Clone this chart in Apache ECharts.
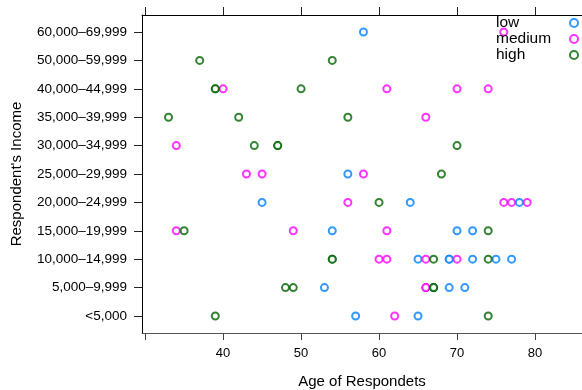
<!DOCTYPE html>
<html>
<head>
<meta charset="utf-8">
<script src="https://cdn.jsdelivr.net/npm/echarts@6/dist/echarts.min.js"></script>
<style>
  html, body { margin: 0; padding: 0; background: #fff; }
  #chart { width: 582px; height: 390px; }
</style>
</head>
<body>
<div id="chart"></div>
<script>
// Income brackets, bottom to top
const incomes = [
  '<5,000', '5,000–9,999', '10,000–14,999', '15,000–19,999', '20,000–24,999',
  '25,000–29,999', '30,000–34,999', '35,000–39,999', '40,000–44,999',
  '50,000–59,999', '60,000–69,999'
];

// Respondents as [age, income bracket], one list per group
const lowPoints = [
  [58, '60,000–69,999'],
  [56, '25,000–29,999'],
  [45, '20,000–24,999'], [64, '20,000–24,999'], [78, '20,000–24,999'],
  [54, '15,000–19,999'], [70, '15,000–19,999'], [72, '15,000–19,999'],
  [65, '10,000–14,999'], [69, '10,000–14,999'], [69, '10,000–14,999'], [72, '10,000–14,999'],
  [75, '10,000–14,999'], [77, '10,000–14,999'],
  [53, '5,000–9,999'], [67, '5,000–9,999'], [69, '5,000–9,999'], [71, '5,000–9,999'],
  [57, '<5,000'], [65, '<5,000']
];
const mediumPoints = [
  [76, '60,000–69,999'],
  [40, '40,000–44,999'], [61, '40,000–44,999'], [70, '40,000–44,999'], [74, '40,000–44,999'],
  [66, '35,000–39,999'],
  [34, '30,000–34,999'],
  [43, '25,000–29,999'], [45, '25,000–29,999'], [58, '25,000–29,999'],
  [56, '20,000–24,999'], [76, '20,000–24,999'], [77, '20,000–24,999'], [79, '20,000–24,999'],
  [34, '15,000–19,999'], [49, '15,000–19,999'], [61, '15,000–19,999'],
  [60, '10,000–14,999'], [61, '10,000–14,999'], [66, '10,000–14,999'], [70, '10,000–14,999'],
  [66, '5,000–9,999'], [66, '5,000–9,999'],
  [62, '<5,000']
];
const highPoints = [
  [37, '50,000–59,999'], [54, '50,000–59,999'],
  [39, '40,000–44,999'], [39, '40,000–44,999'], [50, '40,000–44,999'],
  [33, '35,000–39,999'], [42, '35,000–39,999'], [56, '35,000–39,999'],
  [44, '30,000–34,999'], [47, '30,000–34,999'], [47, '30,000–34,999'], [70, '30,000–34,999'],
  [68, '25,000–29,999'],
  [60, '20,000–24,999'],
  [35, '15,000–19,999'], [74, '15,000–19,999'],
  [54, '10,000–14,999'], [54, '10,000–14,999'], [67, '10,000–14,999'], [74, '10,000–14,999'],
  [48, '5,000–9,999'], [49, '5,000–9,999'], [67, '5,000–9,999'], [67, '5,000–9,999'],
  [39, '<5,000'], [74, '<5,000']
];

const groups = ['low', 'medium', 'high'];
const groupPoints = [lowPoints, mediumPoints, highPoints];
const groupColors = ['#0080ff', '#ff00ff', '#006400'];

const xTicks = [30, 40, 50, 60, 70, 80];
const xLabels = [40, 50, 60, 70, 80];
const yTicks = incomes.map((_, i) => i);

const font = 'Liberation Sans, Arial, sans-serif';

const chart = echarts.init(document.getElementById('chart'), null, { renderer: 'canvas' });

chart.setOption({
  animation: false,
  backgroundColor: '#fff',
  grid: { left: 142, top: 15, right: 0, bottom: 57, containLabel: false, outerBoundsMode: 'none' },
  legend: {
    orient: 'vertical',
    align: 'right',
    left: 496,
    top: 15,
    padding: 0,
    itemWidth: 8,
    itemHeight: 8,
    itemGap: 0,
    icon: 'emptyCircle',
    formatter: '{t|{name}}',
    textStyle: {
      fontFamily: font, fontSize: 15.5, lineHeight: 15.5, color: '#000',
      rich: { t: { width: 69, align: 'left', fontFamily: font, fontSize: 15.5, lineHeight: 15.5, color: '#000' } }
    },
    data: groups
  },
  xAxis: [
    {
      type: 'value', position: 'bottom', min: 29.6, max: 86.03,
      name: 'Age of Respondets', nameLocation: 'middle', nameGap: 41,
      nameTextStyle: { fontFamily: font, fontSize: 15, color: '#000' },
      axisLine: { show: true, onZero: false, lineStyle: { color: '#555', width: 1 } },
      axisTick: { show: true, length: 7, customValues: xTicks, lineStyle: { color: '#444' } },
      axisLabel: { customValues: xLabels, margin: 14, fontFamily: font, fontSize: 13, color: '#000' },
      splitLine: { show: false }
    },
    {
      type: 'value', position: 'top', min: 29.6, max: 86.03,
      axisLine: { show: true, onZero: false, lineStyle: { color: '#000', width: 1 } },
      axisTick: { show: true, length: 8, customValues: xTicks, lineStyle: { color: '#222' } },
      axisLabel: { show: false },
      splitLine: { show: false }
    }
  ],
  yAxis: {
    type: 'value', min: -0.6, max: 10.6,
    name: "Respondent's Income", nameLocation: 'middle', nameGap: 118, nameRotate: 90,
    nameTextStyle: { fontFamily: font, fontSize: 15, color: '#000' },
    axisLine: { show: true, onZero: false, lineStyle: { color: '#000', width: 1 } },
    axisTick: { show: true, length: 8, customValues: yTicks, lineStyle: { color: '#222' } },
    axisLabel: {
      customValues: yTicks, margin: 15, fontFamily: font, fontSize: 13.5, color: '#000',
      formatter: v => incomes[v]
    },
    splitLine: { show: false }
  },
  series: groups.map((g, i) => ({
    name: g,
    type: 'scatter',
    xAxisIndex: 0,
    symbol: 'emptyCircle',
    symbolSize: 7,
    itemStyle: { color: groupColors[i], borderColor: groupColors[i], borderWidth: 1 },
    data: groupPoints[i].map(([age, inc]) => [age, incomes.indexOf(inc)])
  }))
});
</script>
</body>
</html>
